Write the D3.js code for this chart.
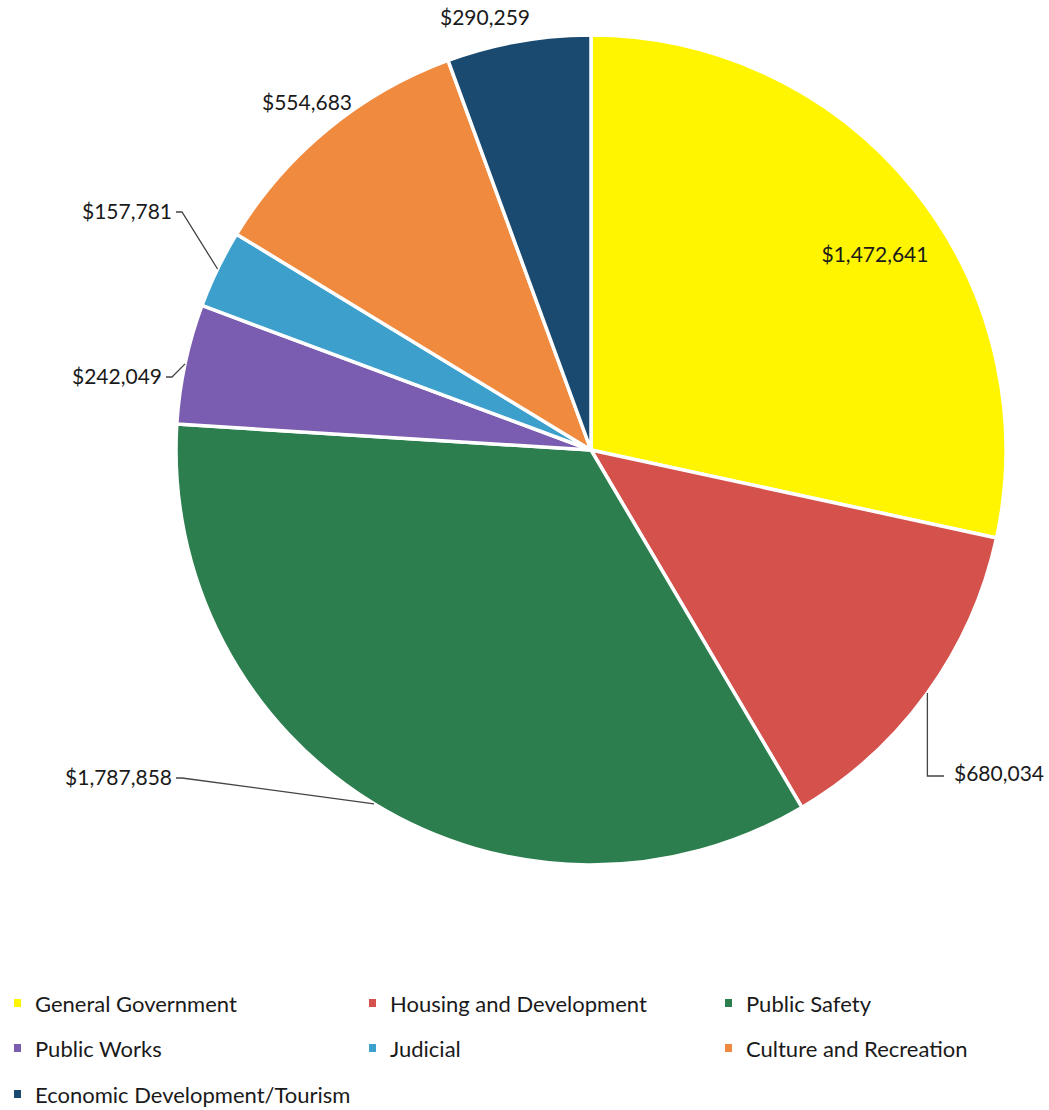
<!DOCTYPE html>
<html>
<head>
<meta charset="utf-8">
<script src="https://cdn.jsdelivr.net/npm/d3@7"></script>
<style>
  html, body { margin: 0; padding: 0; background: #fff; }
  svg { display: block; }
  text { font-family: Lato, "Open Sans", sans-serif; fill: #1a1a1a; }
</style>
</head>
<body>
<svg id="chart" width="1049" height="1110"></svg>
<script>
// Expenditure by function
const categories = [
  "General Government",
  "Housing and Development",
  "Public Safety",
  "Public Works",
  "Judicial",
  "Culture and Recreation",
  "Economic Development/Tourism"
];
const amounts = [1472641, 680034, 1787858, 242049, 157781, 554683, 290259];
const colors = ["#FFF500", "#D4514C", "#2C7E4E", "#7A5CB0", "#3C9FCC", "#F08A3E", "#1B4A70"];

const W = 1049, H = 1110;
const cx = 591, cy = 450, R = 415;

const svg = d3.select("#chart");
const fmt = v => "$" + d3.format(",")(v);

const data = categories.map((c, i) => ({ name: c, value: amounts[i], color: colors[i] }));

const pie = d3.pie().value(d => d.value).sort(null).startAngle(0).endAngle(2 * Math.PI);
const arcs = pie(data);
const arc = d3.arc().innerRadius(0).outerRadius(R);

const g = svg.append("g").attr("transform", `translate(${cx},${cy})`);

g.selectAll("path.slice")
  .data(arcs)
  .join("path")
  .attr("class", "slice")
  .attr("d", arc)
  .attr("fill", d => d.data.color)
  .attr("stroke", "#fff")
  .attr("stroke-width", 3.5)
  .attr("stroke-linejoin", "round");

// point on the rim at a slice's mid angle
function rim(d, r) {
  const a = (d.startAngle + d.endAngle) / 2;
  return [r * Math.sin(a), -r * Math.cos(a)];
}

// label placement per slice (absolute page coordinates), and leader routing
const labelLayout = [
  { x: 875, y: 262, anchor: "middle", leader: null },
  { x: 954, y: 781, anchor: "start", leader: "elbow" },
  { x: 172, y: 785, anchor: "end", leader: "straight" },
  { x: 162, y: 384, anchor: "end", leader: "straight" },
  { x: 172, y: 219, anchor: "end", leader: "straight" },
  { x: 307, y: 110, anchor: "middle", leader: null },
  { x: 485, y: 25, anchor: "middle", leader: null }
];

const labels = svg.append("g");
arcs.forEach((d, i) => {
  const L = labelLayout[i];
  labels.append("text")
    .attr("x", L.x).attr("y", L.y)
    .attr("text-anchor", L.anchor)
    .attr("font-size", 21)
    .text(fmt(d.data.value));

  if (L.leader) {
    const p = rim(d, R);
    const px = cx + p[0], py = cy + p[1];
    let pts;
    if (L.leader === "elbow") {
      pts = [[px, py], [px, L.y - 5], [L.x - 10, L.y - 5]];
    } else {
      pts = [[px, py], [L.x + 10, L.y - 7], [L.x + 4, L.y - 7]];
    }
    labels.append("path")
      .attr("d", d3.line()(pts))
      .attr("fill", "none")
      .attr("stroke", "#444")
      .attr("stroke-width", 1.3);
  }
});

// legend: three columns
const colX = [14, 369, 725];
const rowY = [1004, 1049, 1095];
const legend = svg.append("g");
data.forEach((d, i) => {
  const col = i % 3, row = Math.floor(i / 3);
  const gx = colX[col], gy = rowY[row];
  legend.append("rect")
    .attr("x", gx).attr("y", gy - 5)
    .attr("width", 7).attr("height", 8)
    .attr("fill", d.color);
  legend.append("text")
    .attr("x", gx + 21).attr("y", gy + 8)
    .attr("font-size", 22)
    .text(d.name);
});
</script>
</body>
</html>
